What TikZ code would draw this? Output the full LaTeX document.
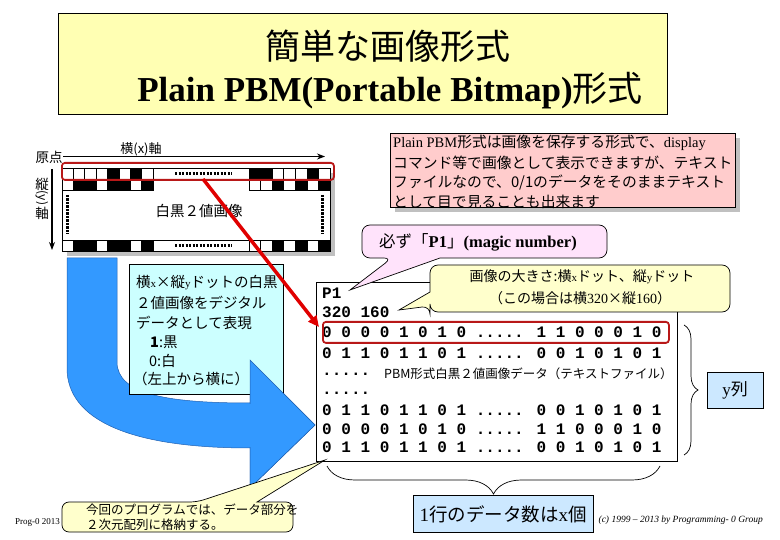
\documentclass[tikz,border=0pt]{standalone}
\usepackage{fontspec}
\setmainfont{Liberation Serif}
\newfontfamily\jp{Noto Sans CJK JP}
\newfontfamily\monof{Liberation Mono}
\usetikzlibrary{arrows.meta,decorations.pathreplacing}
\definecolor{titleY}{HTML}{FFFFB3}
\definecolor{pinkB}{HTML}{FFCCCC}
\definecolor{magicC}{HTML}{FFE3FB}
\definecolor{sizeY}{HTML}{FFFFCC}
\definecolor{descC}{HTML}{CCFFFF}
\definecolor{lblue}{HTML}{CCE8FF}
\definecolor{arrBlue}{HTML}{3399FF}
\definecolor{arrEdge}{HTML}{2060B0}
\definecolor{shGray}{HTML}{C0C0C0}
\definecolor{hlRed}{HTML}{B81818}
\definecolor{arRed}{HTML}{E00000}
\definecolor{cell0}{HTML}{FFFFFF}
\definecolor{cell1}{HTML}{000000}
\begin{document}
\begin{tikzpicture}[x=1pt,y=-1pt,
  frame/.style={draw=black,line width=0.7pt,inner sep=0pt,anchor=north west},
  jpt/.style={font=\jp\fontsize{#1}{#1}\selectfont,inner sep=0pt},
  datline/.style={font=\monof\bfseries\fontsize{16}{16}\selectfont,inner sep=0pt,anchor=west},
  dotline/.style={line width=2.2pt,dash pattern=on 2.2pt off 1.3pt},
  hlbox/.style={draw=hlRed,line width=1.8pt,rounded corners=3pt,inner sep=0pt,anchor=north west},
  callout/.style={draw=black,line width=0.7pt},
  bracestyle/.style={decorate,line width=0.7pt}]
\useasboundingbox (0,0) rectangle (780,540);
\fill[white] (0,0) rectangle (780,540);

% ---------- title
\node[frame,fill=titleY,minimum width=609pt,minimum height=101pt] (title) at (58,13) {};
\node[jpt=35] (t1) at (388,46) {簡単な画像形式};
\node[font=\bfseries\fontsize{35}{35}\selectfont,inner sep=0pt] (t2) at (390,91) {Plain PBM(Portable Bitmap){\jp\mdseries 形式}};

% ---------- bitmap picture
\fill[shGray] (67,173) rectangle (335,256);
\node[frame,fill=white,minimum width=268pt,minimum height=83pt] (bitmap) at (62,168) {};
\foreach \yy/\lst/\rst in {168/{0,0,0,0,1,0,1,0}/{1,1,0,0,0,1,0},179/{0,1,1,0,1,1,0,1}/{0,0,1,0,1,0,1},240/{0,1,1,0,1,1,0,1}/{0,0,1,0,1,0,1}}{
  \foreach \b [count=\i from 0] in \lst
    \draw[line width=0.6pt,fill=cell\b] ({62+\i*11.375},\yy) rectangle ++(11.375,11);
  \foreach \b [count=\i from 0] in \rst
    \draw[line width=0.6pt,fill=cell\b] ({249+\i*11.571},\yy) rectangle ++(11.571,11);
}
\draw[line width=0.6pt] (153,168) rectangle (249,179);
\draw[line width=0.6pt] (153,240) rectangle (249,251);
\draw[dotline] (175,173.5) -- (232,173.5);
\draw[dotline] (175,245.5) -- (232,245.5);
\draw[dotline] (67.5,195) -- (67.5,234);
\draw[dotline] (322.5,195) -- (322.5,234);
\node[jpt=14.5] (bw) at (199,211) {白黒２値画像};
\node[hlbox,minimum width=272pt,minimum height=17pt] (rowhl) at (61,162) {};

% ---------- axes
\coordinate (ox) at (63,156.5);
\coordinate (xe) at (325,156.5);
\coordinate (oy) at (52,169);
\coordinate (ye) at (52,250);
\draw[line width=1.2pt,-{Stealth[length=8pt,width=6pt]}] (ox) -- (xe);
\draw[line width=1.2pt,-{Stealth[length=8pt,width=6pt]}] (oy) -- (ye);
\node[jpt=13.5] (gen) at (49,157) {原点};
\node[jpt=13] (xax) at (141,149) {横(x)軸};
\node[jpt=13.5] (ty1) at (42,184) {縦};
\node[jpt=12,rotate=-90] (ty2) at (42,198) {(y)};
\node[jpt=13.5] (ty3) at (42,213) {軸};

% ---------- pink explanation box
\fill[shGray] (395,138) rectangle (740,212);
\node[frame,fill=pinkB,minimum width=345pt,minimum height=74pt] (pink) at (390,133) {};
\node[jpt=14.8,anchor=west] (p1) at (393,143) {{\rmfamily\fontsize{14.5}{14.5}\selectfont Plain PBM}形式は画像を保存する形式で、{\rmfamily\fontsize{14.5}{14.5}\selectfont display}};
\node[jpt=14.8,anchor=west] (p2) at (393,163) {コマンド等で画像として表示できますが、テキスト};
\node[jpt=14.8,anchor=west] (p3) at (393,183) {ファイルなので、0/1のデータをそのままテキスト};
\node[jpt=14.8,anchor=west] (p4) at (393,202) {として目で見ることも出来ます};

% ---------- big blue arrow and description box
\coordinate (ba1) at (67,258);
\coordinate (ba2) at (117,258);
\coordinate (btip) at (315,425);
\path[fill=arrBlue,draw=arrEdge,line width=0.5pt]
  (ba1) -- (67,368) .. controls (67,420) and (130,448) .. (250,448)
  -- (250,488) -- (btip) -- (250,360) -- (250,403)
  .. controls (170,403) and (117,395) .. (117,362) -- (ba2) -- cycle;
\node[frame,fill=descC,minimum width=154pt,minimum height=130pt] (desc) at (129,264) {};
\path[fill=arrBlue,draw=arrEdge,line width=0.5pt] (250,360) -- (btip) -- (250,488) -- cycle;
\fill[arrBlue] (248,404) rectangle (252,447);
\node[jpt=14.5,anchor=west] (d1) at (136,283) {横{\rmfamily\fontsize{11}{11}\selectfont x}×縦{\rmfamily\fontsize{11}{11}\selectfont y}ドットの白黒};
\node[jpt=14.5,anchor=west] (d2) at (136,303) {２値画像をデジタル};
\node[jpt=14.5,anchor=west] (d3) at (136,323) {データとして表現};
\node[jpt=14.5,anchor=west] (d4) at (150,342) {\textbf{1}:黒};
\node[jpt=14.5,anchor=west] (d5) at (149,361) {0:白};
\node[jpt=14.5,anchor=west] (d6) at (133,379) {（左上から横に）};

% ---------- data text box
\node[frame,fill=white,minimum width=361pt,minimum height=179pt] (data) at (316,282) {};
\node[datline] (l1) at (322,293) {P1};
\node[datline] (l2) at (322,312) {320 160};
\node[datline] (l3) at (322,332) {0 0 0 0 1 0 1 0 ..... 1 1 0 0 0 1 0};
\node[datline] (l4) at (322,353) {0 1 1 0 1 1 0 1 ..... 0 0 1 0 1 0 1};
\node[datline] (l5) at (322,374) {.....};
\node[jpt=12.5,anchor=west] (l5b) at (384,374) {PBM形式白黒２値画像データ（テキストファイル）};
\node[datline] (l6) at (322,393) {.....};
\node[datline] (l7) at (322,410) {0 1 1 0 1 1 0 1 ..... 0 0 1 0 1 0 1};
\node[datline] (l8) at (322,429) {0 0 0 0 1 0 1 0 ..... 1 1 0 0 0 1 0};
\node[datline] (l9) at (322,447) {0 1 1 0 1 1 0 1 ..... 0 0 1 0 1 0 1};
\node[hlbox,minimum width=346pt,minimum height=21pt] (dathl) at (322,321) {};

% ---------- red arrow
\coordinate (ra) at (203,179);
\coordinate (rb) at (319,327);
\draw[arRed,line width=3.5pt,-{Triangle[length=11pt,width=10pt]}] (ra) -- (rb);

% ---------- callouts
\path[callout,fill=magicC] (440,258) [rounded corners=8pt] -- (607,258) -- (607,225) -- (362,225) -- (362,258) -- (392,258) [sharp corners] -- (350,290) -- cycle;
\node[font=\bfseries\fontsize{16.5}{16.5}\selectfont,inner sep=0pt] (magic) at (478,242) {{\jp\mdseries 必ず「}P1{\jp\mdseries 」}(magic number)};

\path[callout,fill=sizeY] (430,292) [rounded corners=8pt] -- (430,265) -- (730,265) -- (730,312) -- (430,312) -- (430,306) [sharp corners] -- (399,310) -- cycle;
\node[jpt=14] (s1) at (582,277) {画像の大きさ:横{\rmfamily\fontsize{11}{11}\selectfont x}ドット、縦{\rmfamily\fontsize{11}{11}\selectfont y}ドット};
\node[jpt=14] (s2) at (580,298) {（この場合は横{\rmfamily\fontsize{14}{14}\selectfont 320}×縦{\rmfamily\fontsize{14}{14}\selectfont 160}）};

% ---------- braces and labels
\draw[bracestyle,decoration={brace,amplitude=14pt}] (684,325) -- (684,455);
\node[frame,fill=lblue,minimum width=56pt,minimum height=36pt] (ycol) at (707,372) {};
\node[font=\fontsize{17}{17}\selectfont,inner sep=0pt] (ycolt) at (735,390) {y{\jp 列}};
\draw[bracestyle,decoration={brace,amplitude=28pt}] (660,466) -- (327,466);

% ---------- footer
\node[font=\fontsize{9}{9}\selectfont,inner sep=0pt,anchor=west] (foot1) at (15,522) {Prog-0 2013};
\node[font=\itshape\fontsize{9.5}{9.5}\selectfont,inner sep=0pt,anchor=east] (foot2) at (763,520) {(c) 1999 -- 2013 by Programming- 0 Group};
\node[frame,fill=lblue,minimum width=180pt,minimum height=37pt] (xrow) at (413,495) {};
\node[jpt=18.5] (xrowt) at (503,514) {{\rmfamily\fontsize{19}{19}\selectfont 1}行のデータ数は{\rmfamily\fontsize{19}{19}\selectfont x}個};

\path[callout,fill=sizeY] (257,502) [rounded corners=7pt] -- (293,502) -- (293,532) -- (62,532) -- (62,502) -- (197,502) [sharp corners] -- (325,460) -- cycle;
\node[jpt=12.5,anchor=west] (b1) at (86,510) {今回のプログラムでは、データ部分を};
\node[jpt=12.5,anchor=west] (b2) at (86,525) {２次元配列に格納する。};
\end{tikzpicture}
\end{document}
